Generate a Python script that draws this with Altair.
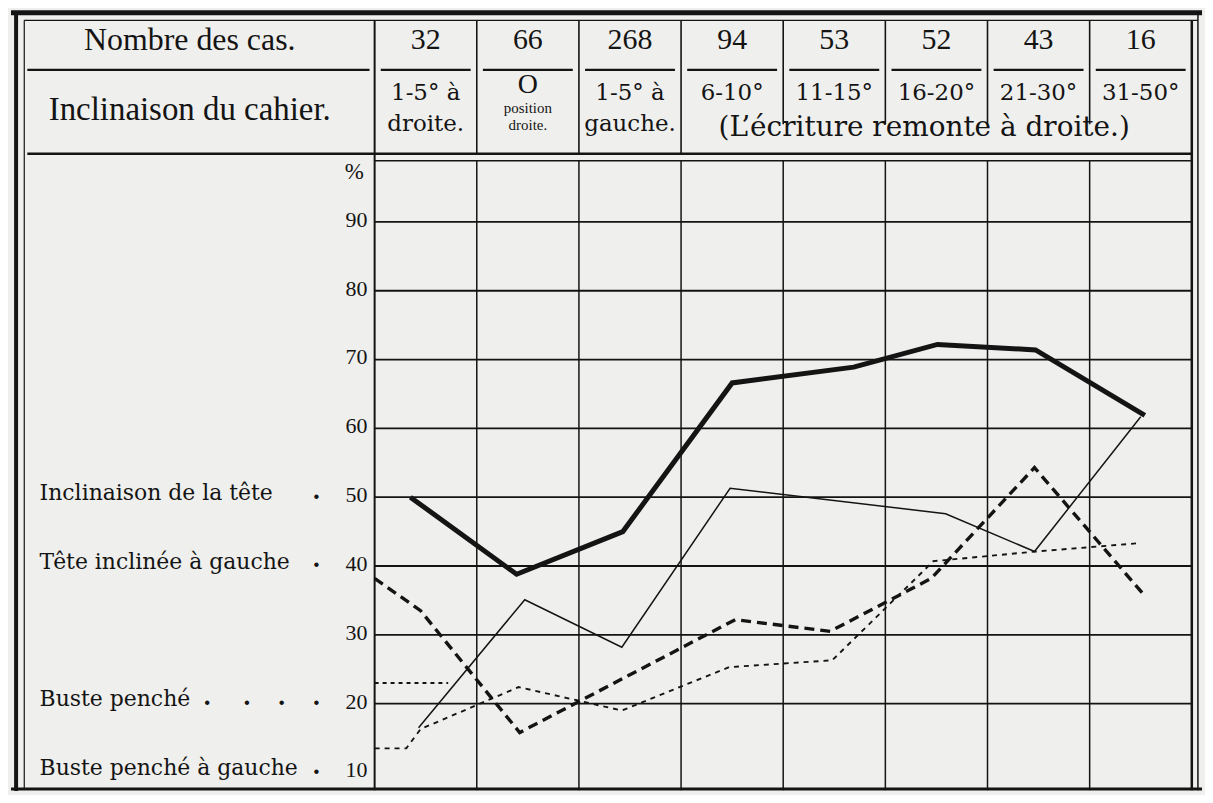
import altair as alt
import pandas as pd

# ---------------- data ----------------
counts = ["32", "66", "268", "94", "53", "52", "43", "16"]
cahier_line1 = ["1-5° à", "O", "1-5° à", "6-10°", "11-15°", "16-20°", "21-30°", "31-50°"]
cahier_line2 = ["droite.", "", "gauche.", "", "", "", "", ""]
o_note = ["position", "droite."]
span_note = "(L’écriture remonte à droite.)"
row_titles = ["Nombre des cas.", "Inclinaison du cahier."]
y_ticks = [90, 80, 70, 60, 50, 40, 30, 20, 10]

legend_names = ["Inclinaison de la tête", "Tête inclinée à gauche", "Buste penché", "Buste penché à gauche"]
legend_rows = [50, 40, 20, 10]
# leader dots: (row value, column position of the dot)
leader_rows = [50, 40, 20, 20, 20, 20, 10]
leader_pos = [-0.57, -0.57, -1.64, -1.25, -0.91, -0.57, -0.57]

# series (x in column units: 0 = left edge of first column, 8 = right edge)
tete_x = [0.35, 1.39, 2.43, 3.50, 4.69, 5.51, 6.47, 7.54]
tete_y = [50.0, 38.8, 45.0, 66.6, 68.9, 72.2, 71.4, 61.9]
mince_x = [0.43, 1.47, 2.42, 3.48, 5.59, 6.46, 7.50]
mince_y = [16.5, 35.1, 28.2, 51.3, 47.6, 42.1, 61.7]
gauche_x = [0.0, 0.45, 1.42, 3.53, 4.46, 5.45, 6.46, 7.52]
gauche_y = [38.2, 33.5, 15.8, 32.2, 30.5, 38.2, 54.3, 36.0]
busteg_x = [0.0, 0.31, 0.45, 1.41, 2.42, 3.47, 4.48, 5.47, 6.47, 7.47]
busteg_y = [13.5, 13.5, 16.3, 22.4, 19.0, 25.3, 26.3, 40.7, 42.1, 43.3]
buste_x = [0.0, 0.72]
buste_y = [23.0, 23.0]

INK = "#141414"
PAPER = "#efefed"
SERIF = "Liberation Serif"
WIDE = "DejaVu Serif"

xs = alt.Scale(domain=[-3.56, 8.1], nice=False, zero=False)
ys = alt.Scale(domain=[7.2, 120.9], nice=False, zero=False)

ncol = len(counts)

# ---------------- frame / grid segments ----------------
segs = []
def seg(x, x2, y, y2, w):
    segs.append({"x": x, "x2": x2, "y": y, "y2": y2, "w": w})

for v in y_ticks[:-1]:
    seg(0, ncol, v, v, 1.8)
seg(0, ncol, 98.9, 98.9, 1.5)
for i in range(1, ncol):
    seg(i, i, 7.4, 98.9, 1.5)
seg(0, 0, 7.4, 119.3, 2.0)
seg(ncol, ncol, 7.4, 119.3, 2.5)
seg(ncol + 0.06, ncol + 0.06, 7.4, 120.4, 1.5)
for i in range(1, 4):
    seg(i, i, 99.9, 119.3, 1.6)
for i in range(4, ncol):
    seg(i, i, 104.2, 119.3, 1.6)
seg(-3.4, -0.05, 112.1, 112.1, 2.4)
for i in range(ncol):
    seg(i + 0.06, i + 0.94, 112.1, 112.1, 2.4)
seg(-3.4, ncol, 99.9, 99.9, 2.4)
seg(-3.56, ncol + 0.1, 120.4, 120.4, 5.0)
seg(-3.43, ncol + 0.06, 119.3, 119.3, 1.2)
seg(-3.51, -3.51, 7.3, 120.4, 4.0)
seg(-3.43, -3.43, 7.5, 119.3, 1.2)
seg(-3.56, ncol + 0.1, 7.6, 7.6, 3.0)

segdf = pd.DataFrame(segs)
frame = alt.Chart(segdf).mark_rule(color=INK).encode(
    x=alt.X("x:Q", scale=xs, axis=None),
    x2="x2:Q",
    y=alt.Y("y:Q", scale=ys, axis=None),
    y2="y2:Q",
    strokeWidth=alt.StrokeWidth("w:Q", scale=None),
)

# ---------------- series lines ----------------
def line_layer(xv, yv, width, dash=None):
    df = pd.DataFrame({"x": xv, "y": yv})
    kw = dict(color=INK, strokeWidth=width, strokeJoin="miter", strokeCap="butt")
    if dash:
        kw["strokeDash"] = dash
    return alt.Chart(df).mark_line(**kw).encode(
        x=alt.X("x:Q", scale=xs, axis=None),
        y=alt.Y("y:Q", scale=ys, axis=None),
    )

lines = [
    line_layer(tete_x, tete_y, 5.0),
    line_layer(mince_x, mince_y, 1.5),
    line_layer(gauche_x, gauche_y, 3.4, [10, 6]),
    line_layer(busteg_x, busteg_y, 1.9, [5, 5]),
    line_layer(buste_x, buste_y, 1.9, [4, 4]),
]

# ---------------- texts ----------------
def text_layer(df, align, font, weight="normal"):
    return alt.Chart(df).mark_text(align=align, baseline="middle", font=font,
                                   color=INK, fontWeight=weight).encode(
        x=alt.X("x:Q", scale=xs, axis=None),
        y=alt.Y("y:Q", scale=ys, axis=None),
        text="t:N",
        size=alt.Size("s:Q", scale=None, legend=None),
    )

narrow = [
    {"x": -1.81, "y": 116.4, "t": row_titles[0], "s": 32},
    {"x": -1.81, "y": 106.3, "t": row_titles[1], "s": 33},
]
wide = []
small = []
for i in range(ncol):
    narrow.append({"x": i + 0.5, "y": 116.4, "t": counts[i], "s": 30})
    if cahier_line1[i] == "O":
        narrow.append({"x": i + 0.5, "y": 109.9, "t": cahier_line1[i], "s": 28})
        small.append({"x": i + 0.5, "y": 106.5, "t": o_note[0], "s": 15})
        small.append({"x": i + 0.5, "y": 104.1, "t": o_note[1], "s": 15})
    else:
        wide.append({"x": i + 0.5, "y": 108.8, "t": cahier_line1[i], "s": 23})
    if cahier_line2[i]:
        wide.append({"x": i + 0.5, "y": 104.2, "t": cahier_line2[i], "s": 23})
wide.append({"x": 5.38, "y": 103.6, "t": span_note, "s": 28})
narrow.append({"x": -0.2, "y": 97.3, "t": "%", "s": 23})

ytxt = pd.DataFrame({"x": [-0.07] * len(y_ticks), "y": [v + 0.3 for v in y_ticks],
                     "t": [str(v) for v in y_ticks], "s": [22] * len(y_ticks)})
legtxt = pd.DataFrame({"x": [-3.28] * len(legend_names), "y": [v + 0.6 for v in legend_rows],
                       "t": legend_names, "s": [22] * len(legend_names)})
leadtxt = pd.DataFrame({"x": leader_pos, "y": [v + 0.8 for v in leader_rows],
                        "t": ["."] * len(leader_rows), "s": [24] * len(leader_rows)})

texts = [
    text_layer(pd.DataFrame(narrow), "center", SERIF),
    text_layer(pd.DataFrame(wide), "center", WIDE),
    text_layer(pd.DataFrame(small), "center", SERIF),
    text_layer(ytxt, "right", SERIF),
    text_layer(legtxt, "left", WIDE),
    text_layer(leadtxt, "center", WIDE, "bold"),
]

chart = alt.layer(frame, *lines, *texts).properties(
    width=1195, height=785, padding=0, background=PAPER
).configure_view(strokeWidth=0)

chart.save("out.html", embed_options={"renderer": "svg", "actions": False})
